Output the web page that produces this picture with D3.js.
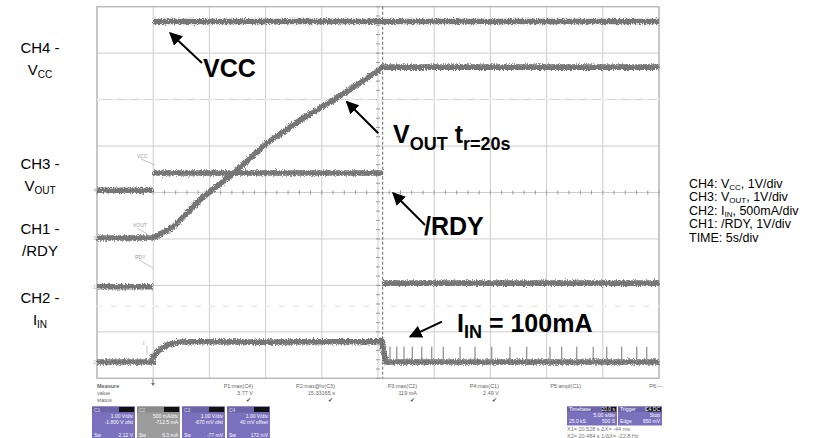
<!DOCTYPE html>
<html>
<head>
<meta charset="utf-8">
<script src="https://cdn.jsdelivr.net/npm/d3@7"></script>
<style>
  html, body { margin: 0; padding: 0; background: #fff; }
  svg { display: block; font-family: "Liberation Sans", Arial, sans-serif; }
</style>
</head>
<body>
<svg id="chart" width="832" height="438"></svg>
<script>
// ---------------- DATA (read from the scope capture) ----------------
// time axis: 5 s/div, 10 divisions
const timeTicks = [0, 5, 10, 15, 20, 25, 30, 35, 40, 45, 50];
const divTicks = [0, 1, 2, 3, 4, 5, 6, 7, 8];

// CH4 - VCC (V); null = fast edge, not visible on the scope
const vccTime  = [0, 4.98, 4.98, 4.98, 50];
const vccVolts = [0, 0, null, 3.63, 3.63];

// CH3 - VOUT (V)
const voutTime  = [0, 4.98, 5.6, 6.79, 8.27, 9.16, 10.05, 12.13, 15.10, 18.35, 21.02, 23.10, 24.88, 25.44, 50];
const voutVolts = [0, 0, 0.08, 0.24, 0.60, 0.82, 1.00, 1.39, 2.04, 2.58, 2.97, 3.29, 3.58, 3.68, 3.68];

// CH1 - /RDY (V)
const rdyTime  = [0, 4.98, 4.98, 4.98, 25.45, 25.45, 25.45, 50];
const rdyVolts = [0, 0, null, 2.45, 2.45, null, 0.08, 0.08];

// CH2 - IIN (mA)
const iinTime = [0, 4.98, 4.98, 5.3, 5.7, 6.2, 6.8, 7.5, 9, 15, 20, 25.0, 25.3, 25.5, 25.7, 50];
const iinMA   = [0, 0, 60, 100, 145, 180, 205, 215, 218, 214, 218, 220, 235, 120, 0, 0];
// pulses of input current after VOUT reached regulation
const spikeTimes = [26.07, 26.67, 27.31, 28.05, 28.89, 29.78, 30.81, 32.30, 33.63, 35.12,
                    36.74, 38.23, 40.30, 41.34, 42.68, 44.15, 45.35, 46.68, 48.02, 48.91];
const spikeMA = 165;

// channel settings: ground position (div from bottom) and units per div
const channels = [
  { key: "C4", time: vccTime,  vals: vccVolts,  offset: 4.05, perDiv: 1 },
  { key: "C3", time: voutTime, vals: voutVolts, offset: 3.02, perDiv: 1 },
  { key: "C1", time: rdyTime,  vals: rdyVolts,  offset: 1.97, perDiv: 1 },
  { key: "C2", time: iinTime,  vals: iinMA,     offset: 0.35, perDiv: 500 }
];

// measurement readouts
const measNames  = ["P1:max(C4)", "P2:max@lv(C3)", "P3:max(C2)", "P4:max(C1)", "P5:ampl(C1)", "P6:---"];
const measValues = ["3.77 V", "15.33165 s", "119 mA", "2.49 V", "", ""];
const measStatus = ["\u2714", "\u2714", "\u2714", "\u2714", "", ""];

const chBoxNames = ["C1", "C2", "C3", "C4"];
const chBoxLine1 = ["1.00 V/div", "500 mA/div", "1.00 V/div", "1.00 V/div"];
const chBoxLine2 = ["-1.800 V ofst", "-712.5 mA", "-670 mV ofst", "40 mV offset"];
const chBoxLine3 = ["2.12 V", "6.3 mA", "-77 mV", "172 mV"];

// ---------------- DRAWING ----------------
const svg = d3.select("#chart");
svg.append("rect").attr("width", 832).attr("height", 438).attr("fill", "#fff");

const x = d3.scaleLinear().domain([0, 50]).range([97, 659]);
const y = d3.scaleLinear().domain([0, 8]).range([378.3, 6.7]);

// noise filter for scope traces
const defs = svg.append("defs");
const f = defs.append("filter").attr("id", "fuzz").attr("x", "-5%").attr("y", "-20%").attr("width", "110%").attr("height", "140%");
f.append("feTurbulence").attr("type", "fractalNoise").attr("baseFrequency", "1.1 0.7").attr("numOctaves", 2).attr("seed", 3).attr("result", "n");
f.append("feDisplacementMap").attr("in", "SourceGraphic").attr("in2", "n").attr("scale", 5).attr("xChannelSelector", "R").attr("yChannelSelector", "G");

defs.append("marker").attr("id", "ah").attr("viewBox", "0 0 10 10").attr("refX", 9).attr("refY", 5)
  .attr("markerWidth", 6.5).attr("markerHeight", 6.5).attr("markerUnits", "strokeWidth").attr("orient", "auto")
  .append("path").attr("d", "M0,0 L10,5 L0,10 z").attr("fill", "#000");

// grid
const grid = svg.append("g");
grid.selectAll("line.v").data(timeTicks).join("line")
  .attr("x1", d => x(d)).attr("x2", d => x(d)).attr("y1", y(8)).attr("y2", y(0))
  .attr("stroke", "#cdcdcd").attr("stroke-width", 1);
grid.selectAll("line.h").data(divTicks).join("line")
  .attr("x1", x(0)).attr("x2", x(50)).attr("y1", d => y(d)).attr("y2", d => y(d))
  .attr("stroke", "#cdcdcd").attr("stroke-width", 1);
grid.append("rect").attr("x", x(0)).attr("y", y(8)).attr("width", x(50) - x(0)).attr("height", y(0) - y(8))
  .attr("fill", "none").attr("stroke", "#b5b5b5").attr("stroke-width", 1.2);

// minor ticks on centre axes
const minorX = d3.range(0, 50.01, 1);
grid.selectAll("line.mx").data(minorX).join("line")
  .attr("x1", d => x(d)).attr("x2", d => x(d)).attr("y1", y(4) - 2).attr("y2", y(4) + 2)
  .attr("stroke", "#999").attr("stroke-width", 1);
const minorY = d3.range(0, 8.01, 0.2);
grid.selectAll("line.my").data(minorY).join("line")
  .attr("x1", x(25) - 2).attr("x2", x(25) + 2).attr("y1", d => y(d)).attr("y2", d => y(d))
  .attr("stroke", "#999").attr("stroke-width", 1);

// faint ghost lines
[6.0, 1.55].forEach(dv => {
  grid.append("line").attr("x1", x(0)).attr("x2", x(50)).attr("y1", y(dv)).attr("y2", y(dv))
    .attr("stroke", "#eeeeee").attr("stroke-width", 2).attr("stroke-dasharray", "6,8");
});

// traces
const traces = svg.append("g").attr("filter", "url(#fuzz)");
channels.forEach(ch => {
  const pts = ch.time.map((t, i) => [t, ch.vals[i] == null ? null : ch.offset + ch.vals[i] / ch.perDiv]);
  const line = d3.line().defined(d => d[1] != null).x(d => x(d[0])).y(d => y(d[1]));
  traces.append("path").datum(pts).attr("d", line)
    .attr("fill", "none").attr("stroke", "#767676").attr("stroke-width", 5.6)
    .attr("stroke-linejoin", "round");
});
const iin = channels[3];
svg.append("g").selectAll("line").data(spikeTimes).join("line")
  .attr("x1", d => x(d)).attr("x2", d => x(d))
  .attr("y1", y(iin.offset)).attr("y2", y(iin.offset + spikeMA / iin.perDiv))
  .attr("stroke", "#8a8a8a").attr("stroke-width", 1.2);

// cursor
svg.append("line").attr("x1", 382.7).attr("x2", 382.7).attr("y1", y(8)).attr("y2", y(0))
  .attr("stroke", "#666").attr("stroke-width", 1).attr("stroke-dasharray", "3,2");

// trigger marker
svg.append("line").attr("x1", x(4.98)).attr("x2", x(4.98)).attr("y1", 379).attr("y2", 385).attr("stroke", "#777");
svg.append("path").attr("d", `M${x(4.98) - 2},383 L${x(4.98) + 2},383 L${x(4.98)},386 z`).attr("fill", "#777");

// tiny on-screen trace labels
const tiny = [["VCC", 137, 158, 155, 165], ["VOUT", 133, 227, 152, 237], ["RDY", 135, 259, 153, 268], ["I", 143, 345, 147, 355]];
tiny.forEach(([t, tx, ty, lx, ly]) => {
  svg.append("text").attr("x", tx).attr("y", ty).attr("font-size", 5).attr("fill", "#999").text(t);
  svg.append("line").attr("x1", tx + 4).attr("y1", ty + 1).attr("x2", lx).attr("y2", ly).attr("stroke", "#aaa").attr("stroke-width", 0.7);
});
// ground markers on left edge
channels.forEach(ch => {
  svg.append("text").attr("x", x(0) - 1).attr("y", y(ch.offset) + 2).attr("text-anchor", "end")
    .attr("font-size", 5).attr("fill", "#aaa").text(ch.key.slice(1));
});

// annotation arrows
const arrows = [[202, 63, 170, 33], [378.3, 133.3, 346.7, 101.7], [425, 225, 393, 193], [442, 321.7, 410, 336.7]];
svg.append("g").selectAll("line").data(arrows).join("line")
  .attr("x1", d => d[0]).attr("y1", d => d[1]).attr("x2", d => d[2]).attr("y2", d => d[3])
  .attr("stroke", "#000").attr("stroke-width", 2).attr("marker-end", "url(#ah)");

// bold annotations
const ann = svg.append("g").attr("font-weight", "bold").attr("fill", "#000");
ann.append("text").attr("x", 203).attr("y", 76.5).attr("font-size", 25).text("VCC");
const vt = ann.append("text").attr("x", 393).attr("y", 143.3).attr("font-size", 25);
vt.append("tspan").text("V");
vt.append("tspan").attr("font-size", 18).attr("dy", 7).text("OUT");
vt.append("tspan").attr("dy", -7).text(" t");
vt.append("tspan").attr("font-size", 18).attr("dy", 7).text("r=20s");
ann.append("text").attr("x", 424).attr("y", 235).attr("font-size", 25).text("/RDY");
const it = ann.append("text").attr("x", 457).attr("y", 331.7).attr("font-size", 25);
it.append("tspan").text("I");
it.append("tspan").attr("font-size", 18).attr("dy", 6.5).text("IN");
it.append("tspan").attr("dy", -6.5).text(" = 100mA");

// left channel labels
const leftLabels = [["CH4 -", "V", "CC", 53, 75], ["CH3 -", "V", "OUT", 169, 191], ["CH1 -", "/RDY", "", 234, 256], ["CH2 -", "I", "IN", 303, 325]];
const ll = svg.append("g").attr("font-size", 15).attr("fill", "#000").attr("text-anchor", "middle");
leftLabels.forEach(([a, b, s, y1, y2]) => {
  ll.append("text").attr("x", 40).attr("y", y1).text(a);
  const t = ll.append("text").attr("x", 40).attr("y", y2);
  t.append("tspan").text(b);
  if (s) t.append("tspan").attr("font-size", 10).attr("dy", 3).text(s);
});

// right legend
const legend = [["CH4: V", "CC", ", 1V/div"], ["CH3: V", "OUT", ", 1V/div"], ["CH2: I", "IN", ", 500mA/div"], ["CH1: /RDY, 1V/div", "", ""], ["TIME: 5s/div", "", ""]];
const lg = svg.append("g").attr("font-size", 12.5).attr("fill", "#000");
legend.forEach(([a, s, b], i) => {
  const t = lg.append("text").attr("x", 689).attr("y", 188 + i * 13.4);
  t.append("tspan").text(a);
  if (s) {
    t.append("tspan").attr("font-size", 8).attr("dy", 2).text(s);
    t.append("tspan").attr("dy", -2).text(b);
  }
});

// measurement table
const mt = svg.append("g").attr("font-size", 5.5).attr("fill", "#666");
mt.append("text").attr("x", 97).attr("y", 388).attr("font-weight", "bold").text("Measure");
mt.append("text").attr("x", 97).attr("y", 395).text("value");
mt.append("text").attr("x", 97).attr("y", 402).text("status");
measNames.forEach((n, i) => {
  const rx = 253 + i * 82;
  mt.append("text").attr("x", rx).attr("y", 388).attr("text-anchor", "end").text(n);
  mt.append("text").attr("x", rx).attr("y", 395).attr("text-anchor", "end").text(measValues[i]);
  mt.append("text").attr("x", rx - 2).attr("y", 402).attr("text-anchor", "end").attr("fill", "#444").text(measStatus[i]);
});

// channel boxes
const boxes = svg.append("g").attr("font-size", 5).attr("fill", "#fff");
chBoxNames.forEach((n, i) => {
  const bx = 92 + i * 45;
  const col = n === "C2" ? "#9c9c9c" : "#7a70bd";
  boxes.append("rect").attr("x", bx).attr("y", 406.5).attr("width", 43).attr("height", 32).attr("fill", col).attr("rx", 1);
  boxes.append("rect").attr("x", bx).attr("y", 406.5).attr("width", 43).attr("height", 6).attr("fill", n === "C2" ? "#8a8a8a" : "#6c64a8");
  boxes.append("rect").attr("x", bx + 27).attr("y", 407).attr("width", 15).attr("height", 5).attr("fill", "#111");
  boxes.append("text").attr("x", bx + 2).attr("y", 411.5).attr("fill", "#ddd").text(n);
  boxes.append("text").attr("x", bx + 41).attr("y", 418).attr("text-anchor", "end").text(chBoxLine1[i]);
  boxes.append("text").attr("x", bx + 41).attr("y", 424).attr("text-anchor", "end").text(chBoxLine2[i]);
  boxes.append("text").attr("x", bx + 2).attr("y", 437).text("Sw");
  boxes.append("text").attr("x", bx + 41).attr("y", 437).attr("text-anchor", "end").text(chBoxLine3[i]);
});

// timebase / trigger boxes
const tb = svg.append("g").attr("font-size", 5).attr("fill", "#fff");
[[567, 50, "Timebase", "20.0 s", "5.00 s/div", "500 S", "25.0 kS", "500 S/s"],
 [618, 44, "Trigger", "C4 DC", "Stop", "950 mV", "Edge", "Positive"]].forEach(([bx, w, h, h2, a, b, c, d]) => {
  tb.append("rect").attr("x", bx).attr("y", 406.5).attr("width", w).attr("height", 19).attr("fill", "#7a70bd");
  tb.append("rect").attr("x", bx).attr("y", 406.5).attr("width", w).attr("height", 5.5).attr("fill", "#6c64a8");
  tb.append("rect").attr("x", bx + w - 15).attr("y", 407).attr("width", 14).attr("height", 4.5).attr("fill", "#111");
  tb.append("text").attr("x", bx + 2).attr("y", 411).text(h);
  tb.append("text").attr("x", bx + w - 2).attr("y", 411).attr("text-anchor", "end").text(h2);
  tb.append("text").attr("x", bx + w - 2).attr("y", 417).attr("text-anchor", "end").text(a);
  tb.append("text").attr("x", bx + 2).attr("y", 423).text(c);
  tb.append("text").attr("x", bx + w - 2).attr("y", 423).attr("text-anchor", "end").text(b);
});
const cur = svg.append("g").attr("font-size", 5.5).attr("fill", "#777");
cur.append("text").attr("x", 567).attr("y", 431).text("X1= 20.528 s    \u0394X=  -44 ms");
cur.append("text").attr("x", 567).attr("y", 438).text("X2= 20.484 s  1/\u0394X= -22.8 Hz");
</script>
</body>
</html>
